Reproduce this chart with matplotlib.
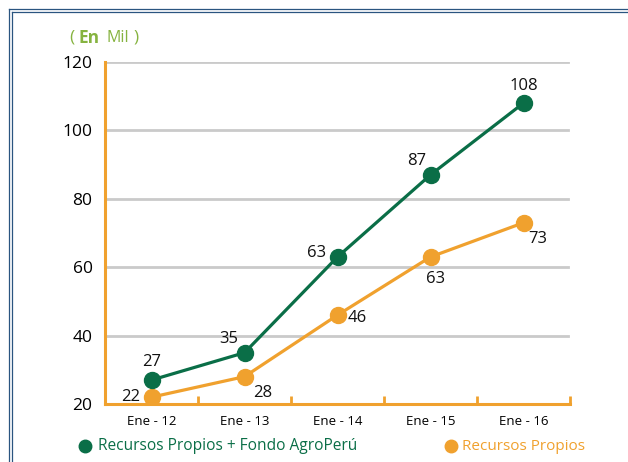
import matplotlib
matplotlib.use('Agg')
import matplotlib.pyplot as plt
from matplotlib.lines import Line2D

# data
categories = ['Ene - 12', 'Ene - 13', 'Ene - 14', 'Ene - 15', 'Ene - 16']
propios_fondo = [27, 35, 63, 87, 108]
propios = [22, 28, 46, 63, 73]
yticks = [20, 40, 60, 80, 100, 120]

GREEN = '#0a6e47'
ORANGE = '#f0a12e'
TITLE_GREEN = '#86b340'
GRID = '#cacaca'
FRAME = '#2a5580'

plt.rcParams['font.family'] = ['Open Sans', 'DejaVu Sans']

fig = plt.figure(figsize=(6.28, 4.62), dpi=100)
ax = fig.add_axes([105 / 628, 1 - 404 / 462, 465 / 628, 342 / 462])

x = list(range(len(categories)))
ax.plot(x, propios, color=ORANGE, lw=2.3, marker='o', ms=11.5, zorder=3)
ax.plot(x, propios_fondo, color=GREEN, lw=2.3, marker='o', ms=11.5, zorder=4)

# value labels (offsets in points)
green_off = [(0, 13), (-11, 10), (-15, 3), (-10, 10), (0, 12)]
orange_off = [(-15, 0), (13, -12), (14, -2), (4, -16), (10, -12)]
for xi, v, off in zip(x, propios_fondo, green_off):
    ax.annotate(str(v), (xi, v), xytext=off, textcoords='offset points',
                ha='center', va='center', fontsize=12, color='#111111')
for xi, v, off in zip(x, propios, orange_off):
    ax.annotate(str(v), (xi, v), xytext=off, textcoords='offset points',
                ha='center', va='center', fontsize=12, color='#111111')

ax.set_xlim(-0.5, 4.5)
ax.set_ylim(20, 120)
ax.set_yticks(yticks)
ax.set_yticklabels([str(t) for t in yticks], fontsize=12.5)
ax.set_xticks(x)
ax.set_xticklabels(categories, fontsize=9.5)
ax.tick_params(axis='x', length=0, pad=8)
ax.tick_params(axis='y', length=0, pad=9)
ax.set_xticks([i - 0.5 for i in range(len(categories) + 1)], minor=True)
ax.tick_params(axis='x', which='minor', direction='in', length=6, width=2, color=ORANGE)

for yv in yticks[1:]:
    ax.axhline(yv, xmax=0.995, color=GRID, lw=2, zorder=1)

for side in ['top', 'right']:
    ax.spines[side].set_visible(False)
for side in ['left', 'bottom']:
    ax.spines[side].set_color(ORANGE)
    ax.spines[side].set_linewidth(2.2)

# title
ty = 1 - 38 / 462
fig.text(69 / 628, ty, '(', color=TITLE_GREEN, fontsize=12.5, va='center')
fig.text(79 / 628, ty, 'En', color=TITLE_GREEN, fontsize=12.5, fontweight='bold', va='center')
fig.text(107 / 628, ty, 'Mil', color=TITLE_GREEN, fontsize=11.5, va='center')
fig.text(133 / 628, ty, ')', color=TITLE_GREEN, fontsize=12.5, va='center')

# legend
ly = 1 - 446 / 462
fig.add_artist(Line2D([85 / 628], [ly], marker='o', ms=9, color=GREEN, lw=0))
fig.text(98 / 628, ly, 'Recursos Propios + Fondo AgroPerú', color=GREEN,
         fontsize=11.2, va='center')
fig.add_artist(Line2D([451 / 628], [ly], marker='o', ms=9, color=ORANGE, lw=0))
fig.text(462 / 628, ly, 'Recursos Propios', color=ORANGE, fontsize=11, va='center')

# double frame on top and left
for p in [9, 11.5]:
    fig.add_artist(Line2D([p / 628, 1], [1 - p / 462, 1 - p / 462], color=FRAME, lw=0.9))
    fig.add_artist(Line2D([p / 628, p / 628], [0, 1 - p / 462], color=FRAME, lw=0.9))

fig.savefig('out.png', dpi=100)
